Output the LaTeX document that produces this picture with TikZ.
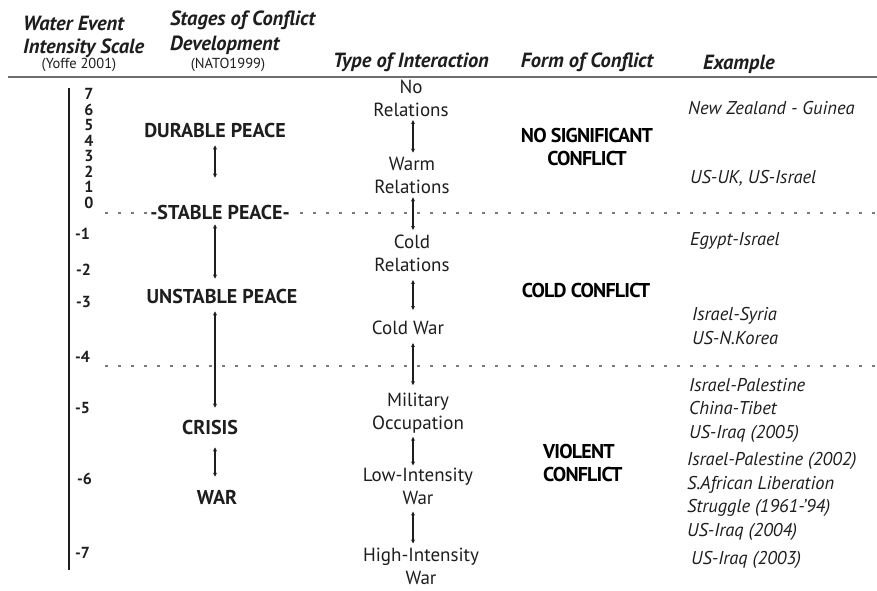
\documentclass[tikz,border=0pt]{standalone}
\usepackage{fontspec}
\setmainfont{PT Sans}
\newfontfamily\tightfont[LetterSpace=-4]{PT Sans}
\usetikzlibrary{arrows.meta}
\definecolor{ink}{HTML}{1E1E1E}
\definecolor{rulegray}{HTML}{6E6E6E}
\definecolor{dotgray}{HTML}{7A7A7A}
\begin{document}
\begin{tikzpicture}[x=1pt,y=-1pt,
  hdr/.style={font=\fontsize{20.5}{23}\selectfont\bfseries\itshape, text=ink, inner sep=0pt, align=left},
  src/.style={font=\fontsize{14.5}{16}\selectfont, text=ink, inner sep=0pt},
  num/.style={font=\fontsize{16}{16}\selectfont\bfseries, text=ink, inner sep=0pt},
  stage/.style={font=\fontsize{20}{22}\selectfont\bfseries, text=ink, inner sep=0pt},
  inter/.style={font=\fontsize{19}{23}\selectfont, text=ink, inner sep=0pt, align=center},
  form/.style={font=\tightfont\fontsize{20}{23}\selectfont\bfseries, text=black, inner sep=0pt},
  ex/.style={font=\fontsize{18.5}{23.5}\selectfont\itshape, text=ink, inner sep=0pt, align=left},
  arr/.style={{Stealth[length=4pt,width=4pt]}-{Stealth[length=4pt,width=4pt]}, line width=1.3pt, draw=ink},
  dots/.style={draw=dotgray, line width=1.3pt, dash pattern=on 3pt off 10pt}
]
\useasboundingbox[fill=white] (0,0) rectangle (877,590);

% header rule and scale axis
\coordinate (hl) at (8,77);
\coordinate (hr) at (877,77);
\draw[rulegray, line width=2pt] (hl) -- (hr);
\coordinate (vt) at (69,88);
\coordinate (vb) at (69,570);
\draw[ink, line width=1.5pt] (vt) -- (vb);

% dotted separators
\coordinate (d1l) at (105,213);
\coordinate (d1r) at (877,213);
\coordinate (d2l) at (105,366);
\coordinate (d2r) at (877,366);
\draw[dots] (d1l) -- (d1r);
\draw[dots] (d2l) -- (d2r);

% headers
\node[hdr, anchor=north west] (h1) at (23,16) {Water Event\\Intensity Scale};
\node[src] (h1s) at (79,65) {(Yoffe 2001)};
\node[hdr, anchor=north west] (h2) at (170,11) {Stages of Conflict\\[2pt]Development};
\node[src] (h2s) at (228,65) {(NATO1999)};
\node[hdr, anchor=base] (h3) at (411,67) {Type of Interaction};
\node[hdr, anchor=base] (h4) at (587,67) {Form of Conflict};
\node[hdr, anchor=base west] (h5) at (703,69) {Example};

% scale numbers
\foreach \k in {7,6,5,4,3,2,1} {
  \node[num] (s\k) at (89,{94+(7-\k)*15.5}) {\k};
}
\node[num] (s0) at (89,203) {0};
\node[num, anchor=west] (m1) at (75,234) {-1};
\node[num, anchor=west] (m2) at (76,270) {-2};
\node[num, anchor=west] (m3) at (76,302) {-3};
\node[num, anchor=west] (m4) at (75,357) {-4};
\node[num, anchor=west] (m5) at (75,408) {-5};
\node[num, anchor=west] (m6) at (77,479) {-6};
\node[num, anchor=west] (m7) at (75,553) {-7};

% stages of conflict development
\coordinate (sx) at (215,0);
\node[stage] (dp) at (215,130) {DURABLE PEACE};
\node[stage, fill=white, inner xsep=1pt] (sp) at (220,212) {-STABLE PEACE-};
\node[stage] (up) at (222,296) {UNSTABLE PEACE};
\node[stage] (cr) at (210,427) {CRISIS};
\node[stage] (wr) at (217,497) {WAR};
\draw[arr, shorten <=8pt, shorten >=27pt] (dp.south -| sx) -- (sp.north -| sx);
\draw[arr, shorten <=5pt, shorten >=10pt] (sp.south -| sx) -- (up.north -| sx);
\draw[arr, shorten <=8pt, shorten >=12pt] (up.south -| sx) -- (cr.north -| sx);
\draw[arr, shorten <=13pt, shorten >=13pt] (cr.south -| sx) -- (wr.north -| sx);

% type of interaction
\coordinate (ix) at (413,0);
\node[inter] (nr) at (411,98.5) {No\\Relations};
\node[inter] (wm) at (412,175) {Warm\\Relations};
\node[inter] (cd) at (412,253.5) {Cold\\Relations};
\node[inter] (cw) at (408,328) {Cold War};
\node[inter] (mo) at (418,413.5) {Military\\Occupation};
\node[inter] (li) at (418,486) {Low-Intensity\\War};
\node[inter] (hi) at (421,566) {High-Intensity\\War};
\draw[arr, shorten <=3pt, shorten >=4pt] (nr.south -| ix) -- (wm.north -| ix);
\draw[arr, shorten <=4pt, shorten >=5pt] (wm.south -| ix) -- (cd.north -| ix);
\draw[arr, shorten <=8pt, shorten >=11pt] (cd.south -| ix) -- (cw.north -| ix);
\draw[arr, shorten <=8pt, shorten >=8pt] (cw.south -| ix) -- (mo.north -| ix);
\draw[arr, shorten <=3pt, shorten >=2pt] (mo.south -| ix) -- (li.north -| ix);
\draw[arr, shorten <=7pt, shorten >=4pt] (li.south -| ix) -- (hi.north -| ix);

% form of conflict
\node[form, align=center] (f1) at (587,146.5) {NO SIGNIFICANT\\CONFLICT};
\node[form] (f2) at (586,290) {COLD CONFLICT};
\node[form, align=left, anchor=west] (f3) at (543,463) {VIOLENT\\CONFLICT};

% examples
\node[ex, anchor=base west] (e1) at (688,114) {New Zealand - Guinea};
\node[ex, anchor=base west] (e2) at (690,183) {US-UK, US-Israel};
\node[ex, anchor=base west] (e3) at (690,245) {Egypt-Israel};
\node[ex, anchor=west] (e4) at (692,326) {Israel-Syria\\US-N.Korea};
\node[ex, anchor=west] (e5) at (689,410) {Israel-Palestine\\China-Tibet\\US-Iraq (2005)};
\node[ex, anchor=west] (e6) at (687,496.5) {Israel-Palestine (2002)\\S.African Liberation\\Struggle (1961-'94)\\US-Iraq (2004)};
\node[ex, anchor=base west] (e7) at (691,564) {US-Iraq (2003)};
\end{tikzpicture}
\end{document}
